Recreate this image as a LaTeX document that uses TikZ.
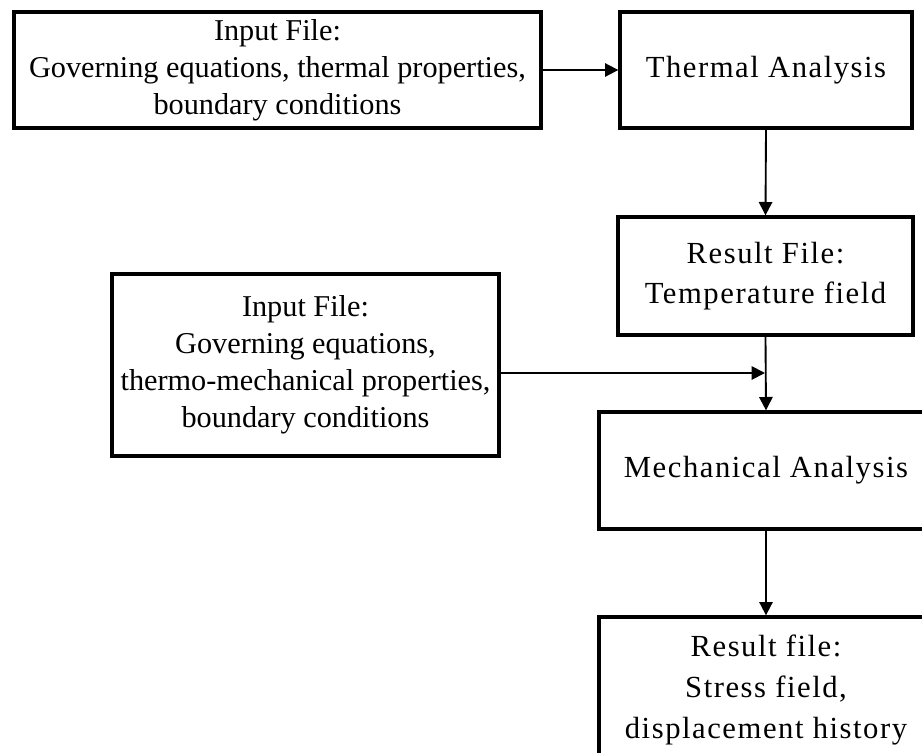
\documentclass[tikz,border=0pt]{standalone}
\usepackage{fontspec}
\setmainfont{Liberation Serif}
\newfontfamily\widefont[LetterSpace=5]{Liberation Serif}
\usetikzlibrary{arrows.meta}

\tikzset{
    box/.style={draw, line width=2.5pt, align=center, inner sep=0pt, fill=white},
    inbox/.style={box, font=\fontsize{22.7}{27.8}\selectfont},
    stagebox/.style={box, font=\widefont\fontsize{23}{30.5}\selectfont},
    arr/.style={line width=1.4pt, -{Triangle[length=10pt,width=10pt]}},
}

\begin{document}
\begin{tikzpicture}[x=0.75pt,y=-0.75pt]

    \useasboundingbox (0,0) rectangle (922,753);
    \clip (0,0) rectangle (922,753);

    % Draw the input files
    \node[inbox, minimum width=395.25pt, minimum height=87pt] (inA) at (277.5,70)
        {Input File:\\Governing equations, thermal properties,\\boundary conditions};
    \node[inbox, minimum width=290.25pt, minimum height=136.5pt] (inB) at (305.5,365)
        {Input File:\\Governing equations,\\thermo-mechanical properties,\\boundary conditions};

    % Draw the analysis steps and result files
    \node[stagebox, minimum width=219pt, minimum height=87pt] (thermal) at (766,70) {Thermal Analysis};
    \node[stagebox, minimum width=221.25pt, minimum height=88.5pt] (resT) at (765.5,276)
        {Result File:\\Temperature field};
    \node[stagebox, minimum width=250.5pt, minimum height=87.75pt] (mech) at (766,470.5) {Mechanical Analysis};
    \node[stagebox, minimum width=250.5pt, minimum height=109.5pt] (resM) at (766,690)
        {Result file:\\Stress field,\\displacement history};

    % Point where the second input joins the flow
    \coordinate (join) at (765,373);

    % Draw the arrows
    \draw[arr] (inA.east) -- (thermal.west);
    \draw[arr] (thermal.south) -- (resT.north);
    \draw[arr] (resT.south) -- (mech.north);
    \draw[arr] (join -| inB.east) -- (join);
    \draw[arr] (mech.south) -- (resM.north);

\end{tikzpicture}
\end{document}
